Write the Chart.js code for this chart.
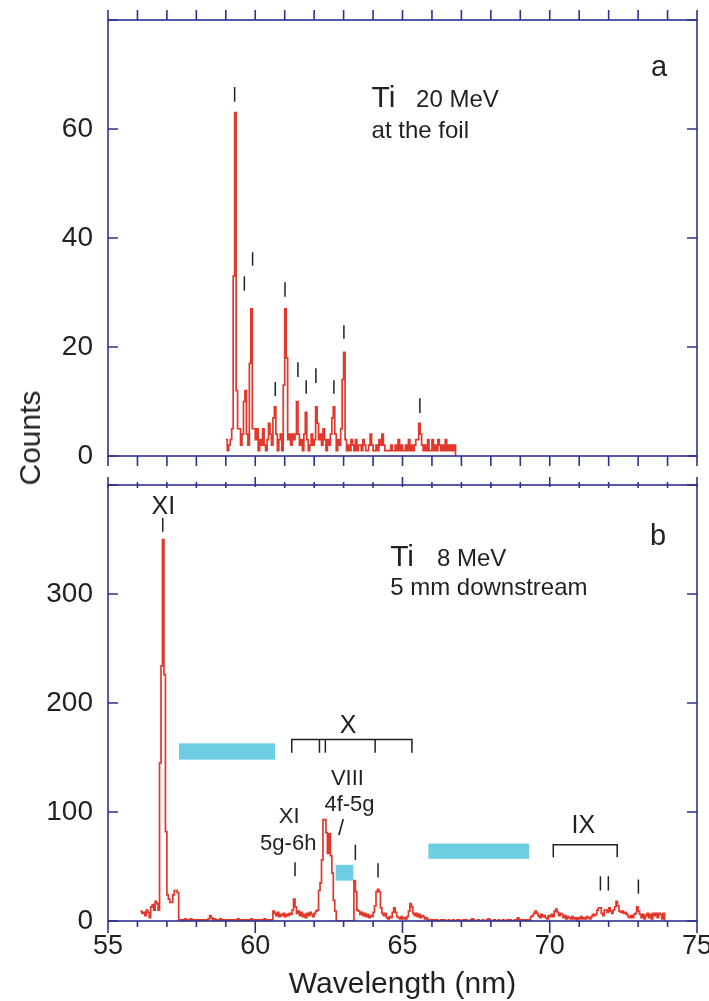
<!DOCTYPE html>
<html>
<head>
<meta charset="utf-8">
<script src="https://cdn.jsdelivr.net/npm/chart.js@4.4.1/dist/chart.umd.min.js"></script>
<style>
  html, body { margin: 0; padding: 0; background: #fff; overflow: hidden; }
  #wrap { position: relative; width: 709px; height: 1001px; }
  #wrap canvas { position: absolute; left: 0; }
  #panelA { top: 0; }
  #panelB { top: 470px; }
  #countsTitle {
    position: absolute; left: 30px; top: 438px;
    transform: translate(-50%, -50%) rotate(-90deg);
    font: 30px "Liberation Sans", Arial, sans-serif; color: #231f20; white-space: nowrap;
  }
</style>
</head>
<body>
<div id="wrap">
  <canvas id="panelA" width="709" height="470"></canvas>
  <canvas id="panelB" width="709" height="531"></canvas>
  <div id="countsTitle">Counts</div>
</div>
<script>
// both spectra are binned in 0.05 nm channels
const binWidth = 0.05;

// (a) 20 MeV, at the foil — channels from 59.00 nm
const foilStart = 59.0;
const foilCounts = [
  3, 1, 2, 3, 5, 33, 63, 12, 5, 5, 2, 4, 10, 12, 4, 2, 17, 27, 5, 5,
  3, 5, 1, 3, 2, 5, 2, 1, 3, 6, 4, 2, 7, 9, 4, 1, 3, 4, 1, 13,
  27, 18, 3, 4, 2, 4, 3, 4, 10, 4, 2, 3, 1, 4, 8, 3, 1, 2, 4, 2,
  3, 9, 6, 3, 4, 2, 5, 3, 1, 3, 2, 4, 7, 9, 4, 1, 3, 2, 5, 14,
  19, 3, 1, 2, 1, 3, 2, 1, 3, 1, 2, 2, 1, 3, 2, 1, 1, 2, 4, 2,
  1, 1, 2, 1, 3, 2, 4, 2, 1, 1, 1, 1, 2, 1, 1, 2, 1, 3, 1, 2,
  1, 1, 2, 1, 3, 1, 2, 1, 2, 3, 3, 6, 4, 2, 1, 2, 1, 3, 1, 1,
  3, 1, 2, 1, 3, 2, 1, 2, 1, 3, 1, 2, 1, 2, 1, 2
];

// (b) 8 MeV, 5 mm downstream — channels from 56.10 nm
const downStart = 56.1;
const downCounts = [
  9, 7, 8, 5, 10, 8, 3, 13, 15, 10, 18, 16, 10, 145, 234, 350, 226, 82, 24, 20,
  17, 17, 24, 28, 28, 26, 1, 1, 0, 1, 2, 1, 0, 1, 2, 1, 0, 1, 1, 0,
  1, 0, 1, 1, 0, 1, 2, 5, 3, 1, 2, 1, 1, 0, 2, 1, 1, 0, 1, 1,
  0, 1, 1, 0, 1, 1, 2, 1, 0, 1, 0, 1, 1, 0, 1, 2, 1, 1, 0, 1,
  1, 0, 1, 1, 2, 1, 0, 1, 1, 1, 9, 7, 5, 8, 4, 6, 5, 7, 4, 6,
  5, 7, 6, 10, 20, 13, 7, 9, 5, 8, 4, 6, 3, 7, 5, 8, 6, 4, 7, 9,
  10, 28, 35, 56, 93, 93, 81, 62, 80, 60, 44, 19, 9, 0, 0, 0, 0, 0, 0, 0,
  0, 0, 0, 0, 0, 37, 27, 10, 9, 6, 8, 5, 7, 4, 6, 3, 5, 4, 8, 14,
  27, 29, 27, 12, 7, 5, 7, 3, 2, 4, 3, 8, 12, 8, 4, 3, 2, 4, 2, 3,
  2, 4, 9, 16, 13, 7, 5, 7, 4, 6, 3, 5, 4, 2, 3, 1, 0, 1, 0, 1,
  0, 1, 0, 0, 1, 0, 1, 0, 0, 1, 0, 0, 1, 0, 0, 1, 1, 0, 0, 1,
  0, 1, 0, 0, 1, 2, 1, 0, 0, 1, 0, 0, 1, 0, 0, 1, 2, 1, 0, 0,
  1, 0, 0, 1, 0, 0, 1, 0, 0, 1, 0, 1, 0, 0, 1, 0, 3, 1, 0, 1,
  0, 1, 0, 1, 1, 4, 5, 7, 9, 7, 5, 3, 6, 4, 5, 3, 2, 5, 4, 6,
  4, 9, 11, 8, 5, 7, 6, 3, 5, 2, 4, 3, 2, 4, 2, 3, 1, 3, 2, 4,
  2, 3, 2, 4, 3, 2, 4, 6, 5, 6, 10, 12, 12, 7, 5, 10, 10, 8, 12, 9,
  7, 10, 13, 18, 14, 9, 8, 9, 7, 8, 6, 4, 3, 5, 3, 6, 7, 13, 9, 6,
  3, 6, 2, 5, 7, 3, 6, 2, 7, 5, 7, 3, 7, 6, 2, 7
];

// axes
const xMin = 55, xMax = 75;
const xLabelStep = 5;
const foilYMax = 80, foilYStep = 20, foilYLabelMax = 60;
const downYMax = 400, downYStep = 100, downYLabelMax = 300;

// line identifications: [wavelength, lower count, upper count]
const foilLineMarks = [
  [59.30, 65.0, 67.7], [59.63, 30.3, 33.0], [59.91, 34.9, 37.4], [60.68, 11.0, 13.6],
  [61.01, 29.2, 31.9], [61.45, 14.5, 17.2], [61.73, 11.4, 13.9], [62.06, 13.4, 16.1],
  [62.67, 11.4, 13.9], [63.01, 21.5, 24.0], [65.59, 7.9, 10.6]
];
const downLineMarks = [
  [56.86, 357, 370], [61.35, 41, 54], [63.40, 56, 70], [64.17, 40, 53],
  [71.72, 28, 41], [71.99, 28, 41], [73.01, 25, 38]
];

// multiplet brackets: [from, to, level, end-tick bottom], plus inner ticks
const bracketX = [61.24, 65.32, 166.5, 154.3];
const bracketXInner = [62.18, 62.38, 64.07];
const bracketIX = [70.12, 72.29, 69.9, 58.6];

// shaded wavelength bands: [from, to, lower count, upper count]
const bands = [
  [57.41, 60.67, 148, 163],
  [62.73, 63.33, 37, 51.5],
  [65.88, 69.30, 57, 71]
];

// text in data coordinates: [text, wavelength, count, size, align]
const foilTexts = [
  ['a', 73.71, 69.7, 29, 'center'],
  ['Ti', 63.95, 64.1, 30, 'left'],
  ['20 MeV', 65.46, 64.1, 24, 'left'],
  ['at the foil', 63.95, 58.4, 24, 'left']
];
const downTexts = [
  ['b', 73.68, 345, 29, 'center'],
  ['Ti', 64.58, 325.7, 30, 'left'],
  ['8 MeV', 66.17, 325.7, 24, 'left'],
  ['5 mm downstream', 64.58, 299, 24, 'left'],
  ['XI', 56.88, 373.5, 25, 'center'],
  ['X', 63.15, 172.7, 25, 'center'],
  ['VIII', 63.13, 125, 22, 'center'],
  ['4f-5g', 63.2, 100.5, 22, 'center'],
  ['/', 62.91, 79, 22, 'center'],
  ['XI', 61.15, 89.9, 22, 'center'],
  ['5g-6h', 61.12, 65.3, 22, 'center'],
  ['IX', 71.14, 80.7, 25, 'center']
];

const red = '#e2382b';
const axisBlue = '#2e3192';
const ink = '#231f20';
const cyan = '#6ccde3';
const fontFamily = '"Liberation Sans", Arial, Helvetica, sans-serif';

function histogram(start, counts) {
  const pts = counts.map((c, i) => ({ x: start + i * binWidth, y: c }));
  pts.push({ x: start + counts.length * binWidth, y: 0 });
  return pts;
}

function framePlugin(yStep, topTick, bottomTick) {
  return {
    id: 'frame',
    afterDatasetsDraw(chart) {
      const { ctx, chartArea: { left, right, top, bottom }, scales: { x, y } } = chart;
      ctx.save();
      ctx.strokeStyle = axisBlue;
      ctx.lineWidth = 1.6;
      ctx.strokeRect(left, top, right - left, bottom - top);
      ctx.beginPath();
      for (let w = xMin; w <= xMax; w++) {
        const px = x.getPixelForValue(w);
        const major = w % xLabelStep === 0;
        const [t0, t1] = topTick(major);
        const [b0, b1] = bottomTick(major);
        ctx.moveTo(px, top + t0); ctx.lineTo(px, top + t1);
        ctx.moveTo(px, bottom + b0); ctx.lineTo(px, bottom + b1);
      }
      for (let v = y.min; v <= y.max; v += yStep) {
        const py = y.getPixelForValue(v);
        ctx.moveTo(left, py); ctx.lineTo(left + 10, py);
        ctx.moveTo(right, py); ctx.lineTo(right - 10, py);
      }
      ctx.stroke();
      ctx.restore();
    }
  };
}

function notesPlugin(marks, texts, withBands) {
  return {
    id: 'notes',
    beforeDatasetsDraw(chart) {
      if (!withBands) return;
      const { ctx, scales: { x, y } } = chart;
      ctx.save();
      ctx.fillStyle = cyan;
      bands.forEach(([w0, w1, c0, c1]) => {
        const x0 = x.getPixelForValue(w0), x1 = x.getPixelForValue(w1);
        const y0 = y.getPixelForValue(c1), y1 = y.getPixelForValue(c0);
        ctx.fillRect(x0, y0, x1 - x0, y1 - y0);
      });
      ctx.restore();
    },
    afterDatasetsDraw(chart) {
      const { ctx, scales: { x, y } } = chart;
      ctx.save();
      ctx.strokeStyle = ink;
      ctx.lineWidth = 1.5;
      ctx.beginPath();
      marks.forEach(([w, c0, c1]) => {
        const px = x.getPixelForValue(w);
        ctx.moveTo(px, y.getPixelForValue(c0));
        ctx.lineTo(px, y.getPixelForValue(c1));
      });
      if (withBands) {
        [bracketX, bracketIX].forEach(([w0, w1, level, drop]) => {
          const yl = y.getPixelForValue(level), yd = y.getPixelForValue(drop);
          ctx.moveTo(x.getPixelForValue(w0), yd);
          ctx.lineTo(x.getPixelForValue(w0), yl);
          ctx.lineTo(x.getPixelForValue(w1), yl);
          ctx.lineTo(x.getPixelForValue(w1), yd);
        });
        bracketXInner.forEach(w => {
          const px = x.getPixelForValue(w);
          ctx.moveTo(px, y.getPixelForValue(bracketX[2]));
          ctx.lineTo(px, y.getPixelForValue(bracketX[3]));
        });
      }
      ctx.stroke();
      ctx.fillStyle = ink;
      ctx.textBaseline = 'alphabetic';
      texts.forEach(([t, w, c, size, align]) => {
        ctx.font = `${size}px ${fontFamily}`;
        ctx.textAlign = align;
        ctx.fillText(t, x.getPixelForValue(w), y.getPixelForValue(c));
      });
      ctx.restore();
    }
  };
}

function yAxis(max, step, labelMax) {
  return {
    min: 0, max: max,
    grid: { display: false, drawTicks: false },
    border: { display: false },
    ticks: {
      stepSize: step, padding: 15, color: ink,
      font: { family: fontFamily, size: 28 },
      callback: v => (v <= labelMax ? v : '')
    },
    afterFit(scale) { scale.width = 108; scale.paddingTop = 0; scale.paddingBottom = 0; }
  };
}

function lineDataset(start, counts) {
  return {
    data: histogram(start, counts),
    borderColor: red,
    borderWidth: 1.7,
    pointRadius: 0,
    stepped: true,
    fill: false
  };
}

const common = {
  responsive: false,
  animation: false,
  events: [],
  plugins: { legend: { display: false }, tooltip: { enabled: false } }
};

new Chart(document.getElementById('panelA'), {
  type: 'line',
  data: { datasets: [lineDataset(foilStart, foilCounts)] },
  options: {
    ...common,
    layout: { padding: { top: 20, right: 12, bottom: 14, left: 0 } },
    scales: {
      x: { type: 'linear', min: xMin, max: xMax, display: false },
      y: yAxis(foilYMax, foilYStep, foilYLabelMax)
    }
  },
  plugins: [
    notesPlugin(foilLineMarks, foilTexts, false),
    framePlugin(foilYStep, () => [-10, 0], () => [0, 10])
  ]
});

new Chart(document.getElementById('panelB'), {
  type: 'line',
  data: { datasets: [lineDataset(downStart, downCounts)] },
  options: {
    ...common,
    layout: { padding: { top: 15, right: 12, bottom: 0, left: 0 } },
    scales: {
      x: {
        type: 'linear', min: xMin, max: xMax,
        grid: { display: false, drawTicks: false },
        border: { display: false },
        ticks: { stepSize: xLabelStep, padding: 9, color: ink, maxRotation: 0,
                 font: { family: fontFamily, size: 27 } },
        title: { display: true, text: 'Wavelength (nm)', color: ink,
                 font: { family: fontFamily, size: 30, lineHeight: 1.0 }, padding: { top: 0, bottom: 1 } },
        afterFit(scale) { scale.height = 80; scale.paddingLeft = 0; scale.paddingRight = 0; }
      },
      y: yAxis(downYMax, downYStep, downYLabelMax)
    }
  },
  plugins: [
    notesPlugin(downLineMarks, downTexts, true),
    framePlugin(downYStep, major => (major ? [-8, 2] : [-3, 3]), major => (major ? [0, 12] : [0, 6]))
  ]
});
</script>
</body>
</html>
